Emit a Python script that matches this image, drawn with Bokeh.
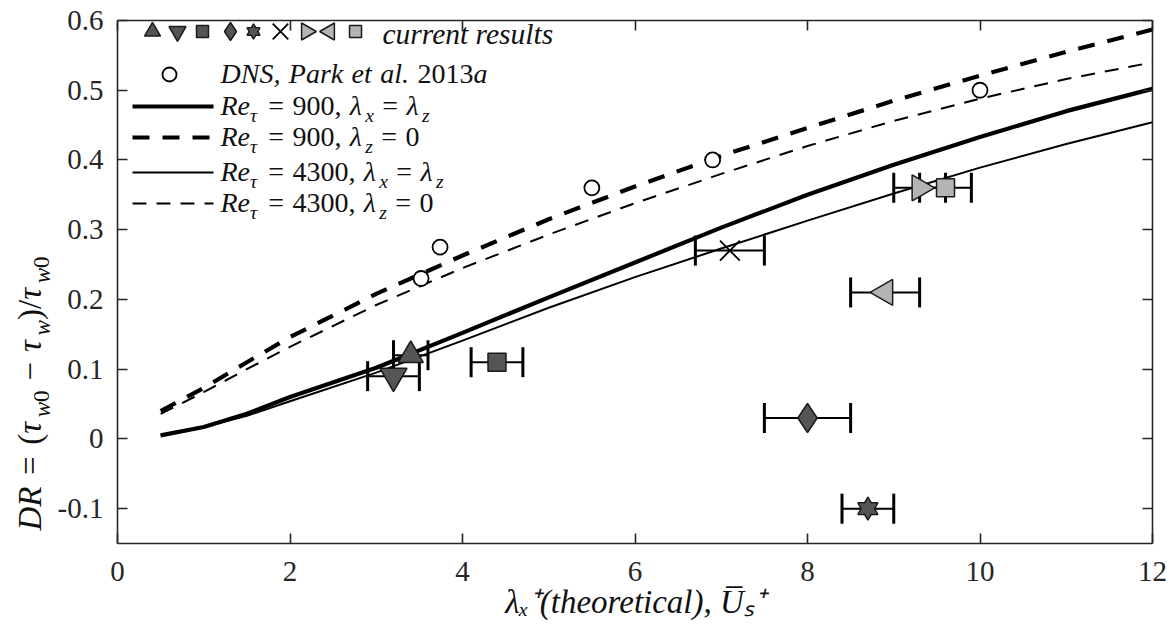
import math
from bokeh.plotting import figure
from bokeh.layouts import row
from bokeh.models import (ColumnDataSource, Whisker, TeeHead, LinearAxis, FixedTicker,
                          Range1d)
from bokeh.core.properties import value
from bokeh.embed import file_html
from bokeh.resources import INLINE

# ---------------- data ----------------
curve_x = [0.5, 1, 1.5, 2, 3, 4, 5, 6, 7, 8, 9, 10, 11, 12]
re900_eq = [0.005, 0.017, 0.036, 0.060, 0.102, 0.152, 0.203, 0.253, 0.303, 0.350, 0.393, 0.433, 0.470, 0.502]
re900_z0 = [0.040, 0.073, 0.110, 0.146, 0.208, 0.263, 0.315, 0.362, 0.406, 0.446, 0.485, 0.521, 0.555, 0.587]
re4300_eq = [0.005, 0.017, 0.033, 0.054, 0.095, 0.141, 0.188, 0.232, 0.273, 0.313, 0.352, 0.389, 0.423, 0.454]
re4300_z0 = [0.036, 0.067, 0.100, 0.132, 0.192, 0.245, 0.293, 0.338, 0.380, 0.420, 0.456, 0.488, 0.516, 0.540]

dns_x = [3.52, 3.74, 5.50, 6.90, 10.0]
dns_y = [0.230, 0.275, 0.360, 0.400, 0.500]

cur_x = [3.4, 3.2, 4.4, 8.0, 8.7, 7.1, 9.3, 8.9, 9.6]
cur_y = [0.12, 0.09, 0.11, 0.03, -0.10, 0.27, 0.36, 0.21, 0.36]
cur_xlo = [3.2, 2.9, 4.1, 7.5, 8.4, 6.7, 9.0, 8.5, 9.3]
cur_xhi = [3.6, 3.5, 4.7, 8.5, 9.0, 7.5, 9.6, 9.3, 9.9]

x_ticks = [0, 2, 4, 6, 8, 10, 12]
y_ticks = [-0.1, 0, 0.1, 0.2, 0.3, 0.4, 0.5, 0.6]
y_tick_labels = ["-0.1", "0", "0.1", "0.2", "0.3", "0.4", "0.5", "0.6"]

# ---------------- styles ----------------
DARK = "#555555"
LIGHT = "#b4b4b4"
EDGE = "#1a1a1a"
AXC = "#262626"
cur_marker = ["triangle", "inverted_triangle", "square", "diamond", "hexagram", "x",
              "triangle_r", "triangle_l", "square"]
cur_fill = [DARK, DARK, DARK, DARK, DARK, None, LIGHT, LIGHT, LIGHT]
cur_size = [25, 27, 18, 29, 20, 28, 26, 26, 18]

SERIF = "Liberation Serif"

# page geometry (page pixels; Bokeh page has no body margin)
YLAB_W = 54
PAGE_H = 634
FL, FR, FT, FB = 117, 1152, 20, 543
XMIN, XMAX, YMIN, YMAX = 0, 12, -0.15, 0.6
BASE_CORR = 0.31  # em correction for where Bokeh's svg puts the alphabetic baseline


def dx(px):
    return XMIN + (px - FL) * (XMAX - XMIN) / (FR - FL)


def dy(py):
    return YMAX - (py - FT) * (YMAX - YMIN) / (FB - FT)


p = figure(frame_width=FR - FL, frame_height=FB - FT,
           min_border_left=FL - YLAB_W, min_border_right=20,
           min_border_top=FT, min_border_bottom=PAGE_H - FB,
           x_range=Range1d(XMIN, XMAX), y_range=Range1d(YMIN, YMAX),
           output_backend="svg", toolbar_location=None)
p.background_fill_color = "white"
p.border_fill_color = "white"
p.outline_line_color = None
p.grid.visible = False

for ax in p.xaxis + p.yaxis:
    ax.major_tick_in = 10
    ax.major_tick_out = 0
    ax.minor_tick_line_color = None
    ax.axis_line_width = 1.6
    ax.axis_line_color = AXC
    ax.major_tick_line_width = 1.6
    ax.major_tick_line_color = AXC
    ax.major_label_text_font = SERIF
    ax.major_label_text_font_size = "29px"
    ax.major_label_text_color = AXC
p.xaxis.ticker = FixedTicker(ticks=x_ticks)
p.yaxis.ticker = FixedTicker(ticks=y_ticks)
p.yaxis.major_label_overrides = {t: l for t, l in zip(y_ticks, y_tick_labels)}
p.xaxis.major_label_standoff = 18
p.yaxis.major_label_standoff = 14
p.xaxis.axis_label = "\u03bb\u2093\u207a(theoretical), U\u0305\u209b\u207a"
p.xaxis.axis_label_text_font = SERIF
p.xaxis.axis_label_text_font_style = "italic"
p.xaxis.axis_label_text_font_size = "33px"
p.xaxis.axis_label_text_color = "#111111"
p.xaxis.axis_label_standoff = 0

for loc, tk in (("above", x_ticks), ("right", y_ticks)):
    a = LinearAxis(ticker=FixedTicker(ticks=tk), major_tick_in=10, major_tick_out=0,
                   minor_tick_line_color=None, axis_line_width=1.6, axis_line_color=AXC,
                   major_tick_line_width=1.6, major_tick_line_color=AXC,
                   major_label_overrides={t: "" for t in tk}, major_label_standoff=0)
    p.add_layout(a, loc)

# ---------------- curves ----------------
p.line(curve_x, re900_eq, line_width=4.2, line_color="black")
p.line(curve_x, re900_z0, line_width=4.2, line_color="black", line_dash="17 13")
p.line(curve_x, re4300_eq, line_width=2, line_color="black")
p.line(curve_x, re4300_z0, line_width=2, line_color="black", line_dash="14 10")

# ---------------- DNS circles ----------------
p.scatter(dns_x, dns_y, marker="circle", size=15, fill_color="white",
          line_color="black", line_width=1.8)

# ---------------- current results ----------------
src = ColumnDataSource(dict(x=cur_x, y=cur_y, lo=cur_xlo, hi=cur_xhi))
p.add_layout(Whisker(source=src, base="y", lower="lo", upper="hi", dimension="width",
                     line_width=2, line_color="black",
                     lower_head=TeeHead(size=30, line_width=3, line_color="black"),
                     upper_head=TeeHead(size=30, line_width=3, line_color="black")))


def draw_marker(x, y, m, fill, size):
    kw = dict(line_color=EDGE, line_width=1.5)
    if m == "hexagram":
        p.scatter([x], [y], marker="triangle", size=size, fill_color=fill, **kw)
        p.scatter([x], [y], marker="inverted_triangle", size=size, fill_color=fill, **kw)
        p.scatter([x], [y], marker="triangle", size=size - 3, fill_color=fill, line_color=None)
        p.scatter([x], [y], marker="inverted_triangle", size=size - 3, fill_color=fill, line_color=None)
    elif m == "x":
        p.scatter([x], [y], marker="x", size=size, line_color="black", line_width=1.8)
    elif m == "triangle_r":
        p.scatter([x], [y], marker="triangle", angle=-math.pi / 2, size=size,
                  fill_color=fill, **kw)
    elif m == "triangle_l":
        p.scatter([x], [y], marker="triangle", angle=math.pi / 2, size=size,
                  fill_color=fill, **kw)
    else:
        p.scatter([x], [y], marker=m, size=size, fill_color=fill, **kw)


for i in range(len(cur_x)):
    draw_marker(cur_x[i], cur_y[i], cur_marker[i], cur_fill[i], cur_size[i])

# ---------------- rich text helper ----------------
W_N = {" ": .25, "=": .564, ",": .25, ".": .25, "(": .333, ")": .333, "/": .278,
       "\u2212": .564, "+": .564}
W_I = {"R": .611, "e": .444, "D": .722, "N": .667, "S": .5, "P": .611, "a": .5, "r": .389,
       "k": .444, "t": .278, "l": .278, "x": .444, "z": .389, "w": .667, "s": .389,
       "h": .5, "o": .5, "i": .278, "c": .444, "U": .722, "\u03bb": .55, "\u03c4": .5,
       " ": .25, ".": .25, ",": .25, "u": .5, "n": .5}


def tw(s, italic):
    t = W_I if italic else W_N
    return sum(t.get(c, .5) for c in s)


def rich(fig, px, py, pieces, size, tx, ty, vertical=False):
    """pieces: (text, italic, kind) or a float gap in em; px,py = baseline start (page px)."""
    pos = 0.0
    for pc in pieces:
        if isinstance(pc, (int, float)):
            pos += pc * size
            continue
        text, italic, kind = pc
        fs = size * (0.7 if kind != "n" else 1.0)
        shift = {"n": 0.0, "sub": 0.25 * size, "sup": -0.42 * size}[kind] - BASE_CORR * fs
        if vertical:
            x, y, ang = px + shift, py - pos, math.pi / 2
        else:
            x, y, ang = px + pos, py + shift, 0
        fig.text(x=[tx(x)], y=[ty(y)], text=[text], angle=ang,
                 text_font=value(SERIF), text_font_size=value(f"{fs:.1f}px"),
                 text_font_style="italic" if italic else "normal",
                 text_baseline="alphabetic", text_align="left", text_color="#111111")
        pos += tw(text, italic) * fs


# legend row 1
leg_px = [152, 177, 202, 230, 253, 280, 306, 329, 355]
leg_sizes = [16, 17, 12, 18, 13, 22, 17, 17, 12]
for i in range(len(leg_px)):
    draw_marker(dx(leg_px[i]), dy(31), cur_marker[i], cur_fill[i], leg_sizes[i])
rich(p, 382, 43, [("current results", True, "n")], 29.5, dx, dy)

# legend row 2
p.scatter([dx(169)], [dy(74)], marker="circle", size=14, fill_color="white",
          line_color="black", line_width=1.8)
rich(p, 220, 82, [("DNS,", True, "n"), 0.3, ("Park", True, "n"), 0.3, ("et", True, "n"),
                  0.3, ("al.", True, "n"), 0.3, ("2013", False, "n"), ("a", True, "n")], 28, dx, dy)

# legend rows 3-6
rows = [(106, 4.2, None), (137, 4.2, "17 13"), (172, 2, None), (203, 2, "14 10")]
for py, lw, dash in rows:
    kw = dict(line_width=lw, line_color="black")
    if dash:
        kw["line_dash"] = dash
    p.line([dx(132), dx(213)], [dy(py), dy(py)], **kw)

RE = [("Re", True, "n"), ("\u03c4", True, "sub"), 0.3, ("=", False, "n"), 0.3]
LX = [("\u03bb", True, "n"), ("x", True, "sub")]
LZ = [("\u03bb", True, "n"), ("z", True, "sub")]
EQ = [0.3, ("=", False, "n"), 0.3]
lab = [
    RE + [("900,", False, "n"), 0.3] + LX + EQ + LZ,
    RE + [("900,", False, "n"), 0.3] + LZ + EQ + [("0", False, "n")],
    RE + [("4300,", False, "n"), 0.3] + LX + EQ + LZ,
    RE + [("4300,", False, "n"), 0.3] + LZ + EQ + [("0", False, "n")],
]
for (py, _, _), pcs in zip(rows, lab):
    rich(p, 220, py + 8, pcs, 28, dx, dy)

# ---------------- y-axis label panel ----------------
yl = figure(frame_width=YLAB_W, frame_height=PAGE_H, min_border=0,
            x_range=Range1d(0, YLAB_W), y_range=Range1d(0, PAGE_H),
            output_backend="svg", toolbar_location=None)
yl.axis.visible = False
yl.grid.visible = False
yl.outline_line_color = None
yl.background_fill_color = "white"
yl.border_fill_color = "white"

TW0 = [("\u03c4", True, "n"), ("w", True, "sub"), ("0", False, "sub")]
ylab = ([("DR", True, "n"), 0.35, ("=", False, "n"), 0.35, ("(", False, "n")] + TW0 +
        [0.3, ("\u2212", False, "n"), 0.3, ("\u03c4", True, "n"), ("w", True, "sub"),
         (")/", False, "n")] + TW0)
rich(yl, 40, 510, ylab, 33, lambda v: v, lambda v: PAGE_H - v, vertical=True)

layout = row(yl, p)
open("out.html", "w").write(file_html(layout, INLINE))
